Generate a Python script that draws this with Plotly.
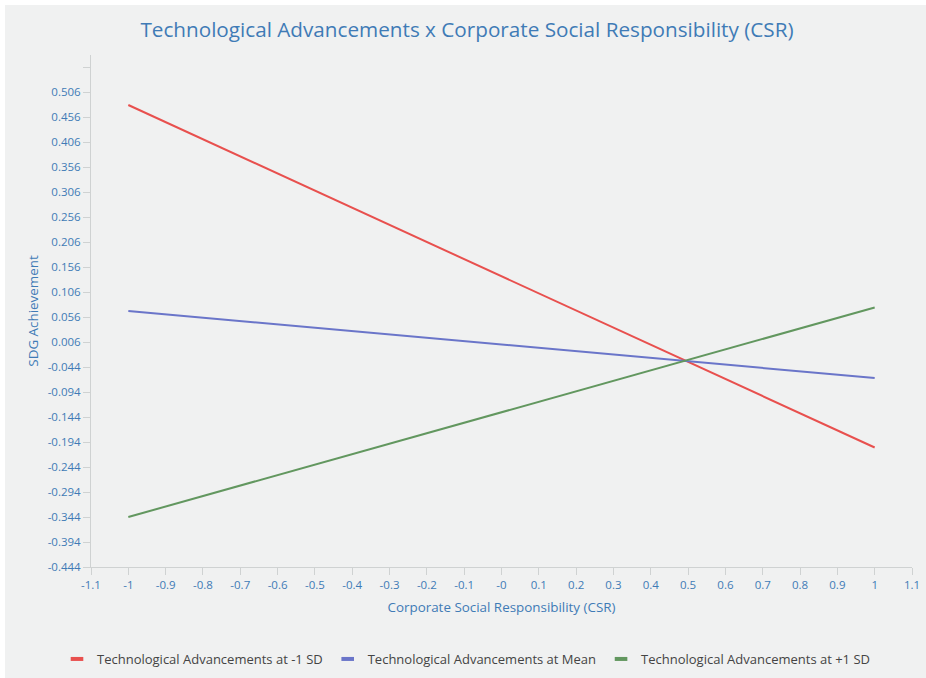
import plotly.graph_objects as go

# Simple slopes of SDG Achievement on CSR at three levels of Technological Advancements
csr_x = [-1, 1]
series_names = [
    "Technological Advancements at -1 SD",
    "Technological Advancements at Mean",
    "Technological Advancements at +1 SD",
]
low_sd = [0.480, -0.205]
mean_level = [0.068, -0.066]
high_sd = [-0.344, 0.075]
series_colors = ["#e8504e", "#6a75c9", "#62975f"]

x_tick_vals = [-1.1, -1.0, -0.9, -0.8, -0.7, -0.6, -0.5, -0.4, -0.3, -0.2, -0.1, 0.0,
               0.1, 0.2, 0.3, 0.4, 0.5, 0.6, 0.7, 0.8, 0.9, 1.0, 1.1]
x_tick_text = ["-1.1", "-1", "-0.9", "-0.8", "-0.7", "-0.6", "-0.5", "-0.4", "-0.3", "-0.2",
               "-0.1", "-0", "0.1", "0.2", "0.3", "0.4", "0.5", "0.6", "0.7", "0.8", "0.9",
               "1", "1.1"]
y_tick_vals = [-0.444, -0.394, -0.344, -0.294, -0.244, -0.194, -0.144, -0.094, -0.044,
               0.006, 0.056, 0.106, 0.156, 0.206, 0.256, 0.306, 0.356, 0.406, 0.456,
               0.506, 0.556]
y_tick_text = ["-0.444", "-0.394", "-0.344", "-0.294", "-0.244", "-0.194", "-0.144",
               "-0.094", "-0.044", "0.006", "0.056", "0.106", "0.156", "0.206", "0.256",
               "0.306", "0.356", "0.406", "0.456", "0.506", ""]

BG = "#f0f1f1"
BLUE_TEXT = "#3f7bb6"
FONT = "Open Sans, Noto Sans, sans-serif"

fig = go.Figure()
for name, vals, col in zip(series_names, [low_sd, mean_level, high_sd], series_colors):
    fig.add_trace(go.Scatter(
        x=csr_x, y=vals, mode="lines", name=name,
        line=dict(color=col, width=2), showlegend=False,
    ))
# legend keys: short thick bars
for name, col in zip(series_names, series_colors):
    fig.add_trace(go.Scatter(
        x=[None], y=[None], mode="markers", name=name,
        marker=dict(symbol="line-ew-open", size=9, color=col, line=dict(width=4, color=col)),
    ))

W, H = 926, 678
ML, MR, MT, MB = 91, 14, 55, 111
pw, ph = W - ML - MR, H - MT - MB

# thin white frame along the top and left edges of the card
border = 5
fig.add_shape(type="rect", xref="paper", yref="paper", layer="below",
              x0=-ML / pw, x1=(W - ML) / pw,
              y0=1 + (MT - border) / ph, y1=1 + MT / ph,
              fillcolor="white", line_width=0)
fig.add_shape(type="rect", xref="paper", yref="paper", layer="below",
              x0=-ML / pw, x1=-(ML - border) / pw,
              y0=-MB / ph, y1=1 + MT / ph,
              fillcolor="white", line_width=0)

axis_common = dict(
    showgrid=False, zeroline=False, showline=True, linecolor="#cfd2d2", linewidth=1,
    ticks="outside", ticklen=7, tickcolor="#cfd2d2", automargin=False,
    tickfont=dict(family=FONT, size=11.5, color=BLUE_TEXT),
)

fig.update_layout(
    width=W, height=H,
    margin=dict(l=ML, r=MR, t=MT, b=MB, autoexpand=False),
    paper_bgcolor=BG, plot_bgcolor=BG,
    title=dict(
        text="Technological Advancements x Corporate Social Responsibility (CSR)",
        x=(467) / W, xanchor="center", y=1 - 30 / H, yanchor="middle",
        font=dict(family=FONT, size=20.7, color=BLUE_TEXT),
    ),
    xaxis=dict(
        range=[-1.1, 1.1], tickmode="array", tickvals=x_tick_vals, ticktext=x_tick_text,
        title=dict(text="Corporate Social Responsibility (CSR)", standoff=11,
                   font=dict(family=FONT, size=13.4, color=BLUE_TEXT)),
        **axis_common,
    ),
    yaxis=dict(
        range=[-0.444, -0.444 + ph / 500], tickmode="array",
        tickvals=y_tick_vals, ticktext=y_tick_text,
        title=dict(text="SDG Achievement", standoff=5,
                   font=dict(family=FONT, size=13.4, color=BLUE_TEXT)),
        **axis_common,
    ),
    legend=dict(
        orientation="h", x=(466 - ML) / pw, xanchor="center",
        y=-(659 - (MT + ph)) / ph, yanchor="middle",
        font=dict(family=FONT, size=13, color="#444444"),
        bgcolor="rgba(0,0,0,0)", itemwidth=30, tracegroupgap=0,
    ),
    showlegend=True,
)

fig.write_html("out.html")
